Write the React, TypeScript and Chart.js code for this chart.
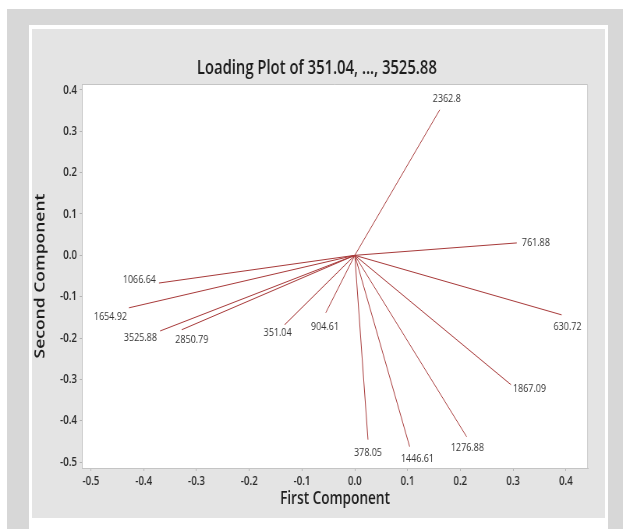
import { useEffect, useRef } from "react";
import { Chart, registerables } from "chart.js";

Chart.register(...registerables);

// Loadings of each wavenumber on the first two principal components
const variableNames = [
  "351.04", "378.05", "630.72", "761.88", "904.61", "1066.64", "1276.88",
  "1446.61", "1654.92", "1867.09", "2362.8", "2850.79", "3525.88",
];
const firstComponent = [
  -0.133, 0.025, 0.392, 0.307, -0.055, -0.371, 0.212,
  0.104, -0.428, 0.296, 0.161, -0.328, -0.369,
];
const secondComponent = [
  -0.168, -0.446, -0.144, 0.030, -0.139, -0.067, -0.439,
  -0.463, -0.127, -0.313, 0.352, -0.180, -0.183,
];
const xTicks = [-0.5, -0.4, -0.3, -0.2, -0.1, 0.0, 0.1, 0.2, 0.3, 0.4];
const yTicks = [-0.5, -0.4, -0.3, -0.2, -0.1, 0.0, 0.1, 0.2, 0.3, 0.4];

const TITLE = "Loading Plot of 351.04, ..., 3525.88";
const X_TITLE = "First Component";
const Y_TITLE = "Second Component";

// Where each name sits relative to its arrow tip (canvas units)
const labelPlacement: Record<string, { dx: number; dy: number; align: CanvasTextAlign }> = {
  "2362.8": { dx: 9, dy: -11, align: "center" },
  "761.88": { dx: 6.5, dy: 0, align: "left" },
  "630.72": { dx: 7.5, dy: 12, align: "center" },
  "1867.09": { dx: 2.5, dy: 4, align: "left" },
  "1276.88": { dx: 1, dy: 11, align: "center" },
  "1446.61": { dx: 10, dy: 12, align: "center" },
  "378.05": { dx: 0, dy: 13, align: "center" },
  "904.61": { dx: -1, dy: 14, align: "center" },
  "351.04": { dx: -9, dy: 8, align: "center" },
  "2850.79": { dx: 13, dy: 10, align: "center" },
  "3525.88": { dx: -4, dy: 7, align: "right" },
  "1654.92": { dx: -2.5, dy: 9, align: "right" },
  "1066.64": { dx: -4, dy: -3, align: "right" },
};

const FONT = "'Open Sans', 'Noto Sans', sans-serif";
const LINE_COLOR = "#a83a3a";
const PANEL_BG = "#e4e4e4";
const FRAME_COLOR = "#c4c4c4";

// The drawing surface is wider than its box, giving the condensed look
const BOX_W = 573;
const BOX_H = 489;
const CANVAS_W = 735;

const panelPlugin = {
  id: "panelBackground",
  beforeDraw(chart: Chart) {
    const { ctx, chartArea } = chart;
    ctx.save();
    ctx.fillStyle = PANEL_BG;
    ctx.fillRect(0, 0, chart.width, chart.height);
    ctx.fillStyle = "#ffffff";
    ctx.fillRect(chartArea.left, chartArea.top, chartArea.right - chartArea.left, chartArea.bottom - chartArea.top);
    ctx.restore();
  },
  afterDraw(chart: Chart) {
    const { ctx, chartArea } = chart;
    ctx.save();
    ctx.strokeStyle = FRAME_COLOR;
    ctx.lineWidth = 1;
    ctx.beginPath();
    ctx.moveTo(chartArea.left, chartArea.top + 0.5);
    ctx.lineTo(chartArea.right - 0.5, chartArea.top + 0.5);
    ctx.lineTo(chartArea.right - 0.5, chartArea.bottom);
    ctx.stroke();
    ctx.restore();
  },
};

const vectorLabelPlugin = {
  id: "vectorLabels",
  afterDatasetsDraw(chart: Chart) {
    const { ctx } = chart;
    ctx.save();
    ctx.font = `11.5px ${FONT}`;
    ctx.fillStyle = "#353535";
    ctx.textBaseline = "middle";
    chart.data.datasets.forEach((ds, i) => {
      const tip = chart.getDatasetMeta(i).data[1];
      if (!tip) return;
      const name = String(ds.label);
      const place = labelPlacement[name] || { dx: 0, dy: 10, align: "center" as CanvasTextAlign };
      ctx.textAlign = place.align;
      ctx.fillText(name, tip.x + place.dx, tip.y + place.dy);
    });
    ctx.restore();
  },
};

export default function App() {
  const canvasRef = useRef<HTMLCanvasElement | null>(null);

  useEffect(() => {
    const canvas = canvasRef.current;
    if (!canvas) return;
    canvas.width = CANVAS_W;
    canvas.height = BOX_H;
    canvas.style.width = `${BOX_W}px`;
    canvas.style.height = `${BOX_H}px`;

    const tickFont = { family: FONT, size: 12.5, weight: "600" as const };
    const axisTitleFont = { family: FONT, size: 17.5, weight: "600" as const };

    const chart = new Chart(canvas, {
      type: "scatter",
      data: {
        datasets: variableNames.map((name, i) => ({
          label: name,
          data: [
            { x: 0, y: 0 },
            { x: firstComponent[i], y: secondComponent[i] },
          ],
          showLine: true,
          borderColor: LINE_COLOR,
          backgroundColor: LINE_COLOR,
          borderWidth: 1,
          pointRadius: 0,
          pointHoverRadius: 0,
        })),
      },
      options: {
        responsive: false,
        animation: false,
        events: [],
        layout: { padding: { left: 17.6, right: 21.8, top: 0, bottom: 0 } },
        plugins: {
          legend: { display: false },
          tooltip: { enabled: false },
          title: {
            display: true,
            text: TITLE,
            color: "#1c1c1c",
            font: { family: FONT, size: 19, weight: "600" },
            padding: { top: 28.6, bottom: 3.6 },
          },
        },
        scales: {
          x: {
            type: "linear",
            min: -0.517,
            max: 0.442,
            afterBuildTicks: (scale: any) => {
              scale.ticks = xTicks.map((v) => ({ value: v }));
            },
            afterFit: (scale: any) => {
              scale.height = 50;
            },
            ticks: {
              autoSkip: false,
              maxRotation: 0,
              padding: 3,
              color: "#2b2b2b",
              font: tickFont,
              callback: (v: any) => Number(v).toFixed(1),
            },
            grid: { drawOnChartArea: false, drawTicks: true, tickLength: 3, color: "#b4b4b4" },
            border: { color: FRAME_COLOR, width: 1 },
            title: {
              display: true,
              text: X_TITLE,
              color: "#1c1c1c",
              font: axisTitleFont,
              padding: { top: 0, bottom: 8.5 },
            },
          },
          y: {
            type: "linear",
            min: -0.5145,
            max: 0.4145,
            afterBuildTicks: (scale: any) => {
              scale.ticks = yTicks.map((v) => ({ value: v }));
            },
            afterFit: (scale: any) => {
              scale.width = 46.5;
            },
            ticks: {
              autoSkip: false,
              padding: 3.4,
              color: "#2b2b2b",
              font: tickFont,
              callback: (v: any) => Number(v).toFixed(1),
            },
            grid: { drawOnChartArea: false, drawTicks: true, tickLength: 3, color: "#b4b4b4" },
            border: { color: FRAME_COLOR, width: 1 },
            title: {
              display: true,
              text: Y_TITLE,
              color: "#1c1c1c",
              font: axisTitleFont,
              padding: { top: -16.6, bottom: 0 },
            },
          },
        },
      },
      plugins: [panelPlugin, vectorLabelPlugin],
    });

    return () => chart.destroy();
  }, []);

  return (
    <div style={{ position: "fixed", left: 0, top: 0, width: 623, height: 529, background: "#ffffff", overflow: "hidden" }}>
      <div style={{ position: "absolute", left: 7, top: 9, width: 616, height: 520, background: "#d7d7d7" }} />
      <div style={{ position: "absolute", left: 29, top: 25, width: 579, height: 504, background: "#ffffff" }} />
      <canvas
        ref={canvasRef}
        style={{ position: "absolute", left: 32, top: 29, width: BOX_W, height: BOX_H }}
      />
    </div>
  );
}
